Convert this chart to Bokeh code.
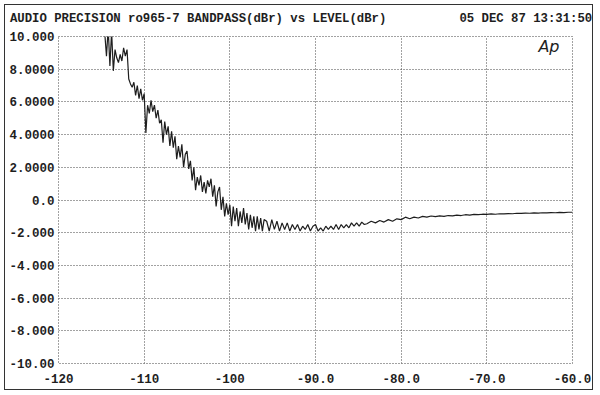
from bokeh.plotting import figure
from bokeh.models import FixedTicker, Label, LinearAxis
from bokeh.embed import file_html
from bokeh.resources import INLINE

title_text = "AUDIO PRECISION ro965-7 BANDPASS(dBr) vs LEVEL(dBr)"
date_text = "05 DEC 87 13:31:50"

x_ticks = [-120, -110, -100, -90, -80, -70, -60]
x_tick_labels = ["-120", "-110", "-100", "-90.0", "-80.0", "-70.0", "-60.0"]
y_ticks = [10, 8, 6, 4, 2, 0, -2, -4, -6, -8, -10]
y_tick_labels = ["10.000", "8.0000", "6.0000", "4.0000", "2.0000", "0.0",
                 "-2.000", "-4.000", "-6.000", "-8.000", "-10.00"]

# level (dBr) sweep points
level_noisy = [-114.8, -114.6, -114.4, -114.2, -114.0, -113.8, -113.6, -113.4, -113.2, -113.0,
               -112.8, -112.6, -112.4, -112.2, -112.0, -111.8, -111.6, -111.4, -111.2, -111.0,
               -110.8, -110.6, -110.4, -110.2, -110.0, -109.8, -109.6, -109.4, -109.2, -109.0,
               -108.8, -108.6, -108.4, -108.2, -108.0, -107.8, -107.6, -107.4, -107.2, -107.0,
               -106.8, -106.6, -106.4, -106.2, -106.0, -105.8, -105.6, -105.4, -105.2, -105.0,
               -104.8, -104.6, -104.4, -104.2, -104.0, -103.8, -103.6, -103.4, -103.2, -103.0,
               -102.8, -102.6, -102.4, -102.2, -102.0, -101.8, -101.6, -101.4, -101.2, -101.0,
               -100.8, -100.6, -100.4, -100.2, -100.0, -99.8, -99.6, -99.4, -99.2, -99.0,
               -98.8, -98.6, -98.4, -98.2, -98.0, -97.8, -97.6, -97.4, -97.2, -97.0,
               -96.8, -96.6, -96.4, -96.2, -96.0]
band_noisy = [11.0, 10.2, 8.8, 10.5, 8.2, 10.3, 7.9, 9.2, 8.7, 8.4,
              8.9, 8.5, 9.3, 8.8, 9.2, 7.4, 7.1, 6.9, 7.2, 6.4,
              7.0, 6.2, 6.8, 6.1, 6.5, 4.1, 5.8, 5.3, 6.1, 5.4,
              5.8, 5.0, 5.5, 4.7, 4.9, 3.5, 4.8, 4.0, 4.5, 3.3,
              4.2, 3.2, 3.9, 2.5, 3.3, 2.6, 3.4, 2.0, 2.8, 3.0,
              1.9, 2.4, 1.2, 2.0, 0.6, 1.4, 0.9, 1.5, 0.5, 1.1,
              0.4, 1.2, 0.8, 1.3, 0.2, 0.9, -0.4, 0.5, 0.8, -0.6,
              0.2, -1.0, -0.2, -0.9, -0.3, -1.6, -0.4, -1.3, -0.5, -1.6,
              -0.7, -1.4, -0.5, -1.5, -0.8, -1.8, -0.9, -1.7, -1.0, -1.9,
              -1.0, -1.8, -1.1, -1.9, -1.2]

level_mid = [-95.7, -95.4, -95.1, -94.8, -94.5, -94.2, -93.9, -93.6, -93.3, -93.0,
             -92.7, -92.4, -92.1, -91.8, -91.5, -91.2, -90.9, -90.6, -90.3, -90.0,
             -89.7, -89.4, -89.1, -88.8, -88.5, -88.2, -87.9, -87.6, -87.3, -87.0,
             -86.7, -86.4, -86.1, -85.8, -85.5, -85.2, -84.9, -84.6, -84.3]
band_mid = [-1.3, -1.9, -1.2, -1.8, -1.3, -1.9, -1.4, -1.8, -1.4, -1.9,
            -1.5, -1.8, -1.5, -1.9, -1.6, -1.8, -1.5, -1.9, -1.6, -1.5,
            -1.9, -1.7, -1.9, -1.6, -1.8, -1.6, -1.8, -1.5, -1.8, -1.5,
            -1.7, -1.5, -1.7, -1.4, -1.6, -1.4, -1.6, -1.35, -1.5]

level_high = [-84.0, -83.5, -83.0, -82.5, -82.0, -81.5, -81.0, -80.5, -80.0, -79.5,
              -79.0, -78.5, -78.0, -77.5, -77.0, -76.5, -76.0, -75.5, -75.0, -74.5,
              -74.0, -73.5, -73.0, -72.5, -72.0, -71.5, -71.0, -70.5, -70.0, -69.5,
              -69.0, -68.5, -68.0, -67.5, -67.0, -66.5, -66.0, -65.5, -65.0, -64.5,
              -64.0, -63.5, -63.0, -62.5, -62.0, -61.5, -61.0, -60.5, -60.0]
band_high = [-1.45, -1.3, -1.4, -1.25, -1.35, -1.2, -1.3, -1.15, -1.2, -1.05,
             -1.15, -1.05, -1.1, -1.0, -1.05, -0.98, -1.02, -0.97, -1.0, -0.95,
             -0.97, -0.93, -0.95, -0.9, -0.93, -0.88, -0.9, -0.87, -0.88, -0.85,
             -0.87, -0.84, -0.85, -0.83, -0.84, -0.81, -0.82, -0.8, -0.81, -0.79,
             -0.8, -0.78, -0.79, -0.77, -0.78, -0.76, -0.77, -0.75, -0.75]

level = level_noisy + level_mid + level_high
bandpass = band_noisy + band_mid + band_high

FONT = "Liberation Mono"
FS = "12.5px"
INK = "#1e1e1e"

p = figure(width=589, height=386, x_range=(-120, -60), y_range=(-10, 10),
           output_backend="svg", toolbar_location=None,
           min_border_left=53, min_border_right=22, min_border_top=31, min_border_bottom=28)
p.styles = {"border": "1.5px solid #333333", "margin": "4px"}

p.line(level, bandpass, line_color=INK, line_width=1.2)

bottom_axis = p.below[0]
left_axis = p.left[0]
bottom_axis.ticker = FixedTicker(ticks=x_ticks)
left_axis.ticker = FixedTicker(ticks=y_ticks)
bottom_axis.major_label_overrides = {t: s for t, s in zip(x_ticks, x_tick_labels)}
left_axis.major_label_overrides = {t: s for t, s in zip(y_ticks, y_tick_labels)}

# header line drawn as labels of an axis above the plot (title left, date right)
title_pos = -103.7
date_pos = -65.45
top_axis = LinearAxis(ticker=FixedTicker(ticks=[title_pos, date_pos]),
                      major_label_overrides={title_pos: title_text, date_pos: date_text})
p.add_layout(top_axis, "above")

for ax in (bottom_axis, left_axis, top_axis):
    ax.axis_line_color = None
    ax.major_tick_line_color = None
    ax.minor_tick_line_color = None
    ax.major_tick_out = 0
    ax.major_tick_in = 0
    ax.minor_tick_out = 0
    ax.major_label_text_font = FONT
    ax.major_label_text_font_style = "bold"
    ax.major_label_text_font_size = FS
    ax.major_label_text_color = INK
top_axis.major_label_text_font_size = "12.3px"
bottom_axis.major_label_standoff = 10
left_axis.major_label_standoff = 4
top_axis.major_label_standoff = 11

p.xgrid.grid_line_color = "#444444"
p.ygrid.grid_line_color = "#444444"
p.xgrid.grid_line_dash = "1 2"
p.ygrid.grid_line_dash = "1 2"
p.outline_line_color = "#444444"
p.outline_line_dash = "1 2"
p.outline_line_width = 1

p.add_layout(Label(x=-60, y=10, x_offset=-13, y_offset=-10, text="Ap",
                   text_font="DejaVu Sans", text_font_style="italic", text_font_size="16px",
                   text_color=INK, text_baseline="middle", text_align="right"))

open("out.html", "w").write(file_html(p, INLINE))
